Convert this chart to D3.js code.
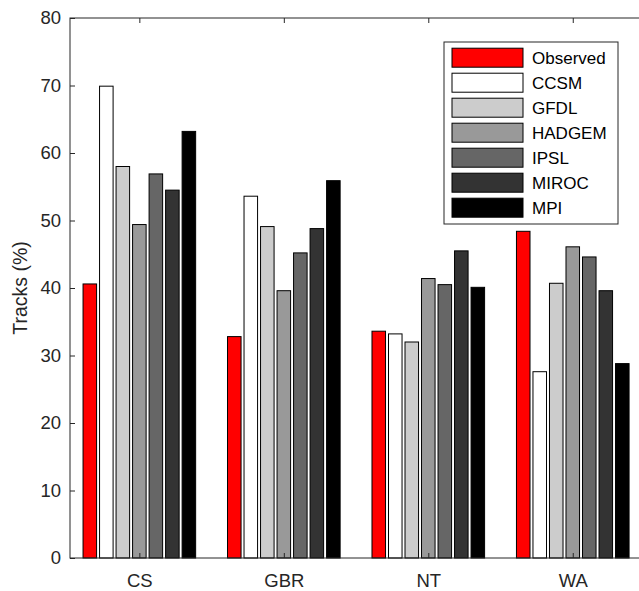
<!DOCTYPE html>
<html>
<head>
<meta charset="utf-8">
<script src="https://cdn.jsdelivr.net/npm/d3@7"></script>
<style>
  body { margin: 0; background: #fff; }
  svg { display: block; font-family: "Liberation Sans", Arial, sans-serif; }
  .axis path { display: none; }
  .axis line { stroke: #262626; }
  .axis text { fill: #262626; }
</style>
</head>
<body>
<script>
// data
var regions = ["CS", "GBR", "NT", "WA"];
var models = ["Observed", "CCSM", "GFDL", "HADGEM", "IPSL", "MIROC", "MPI"];
var observed = [40.6, 32.8, 33.6, 48.4];
var ccsm     = [69.9, 53.6, 33.2, 27.6];
var gfdl     = [58.0, 49.1, 32.0, 40.7];
var hadgem   = [49.4, 39.6, 41.4, 46.1];
var ipsl     = [56.9, 45.2, 40.5, 44.6];
var miroc    = [54.5, 48.8, 45.5, 39.6];
var mpi      = [63.2, 55.9, 40.1, 28.8];
var yTicks = [0, 10, 20, 30, 40, 50, 60, 70, 80];

var seriesValues = [observed, ccsm, gfdl, hadgem, ipsl, miroc, mpi];
var colors = ["#ff0000", "#ffffff", "#cccccc", "#999999", "#666666", "#333333", "#000000"];

var width = 639, height = 591;
// plot box (top/left are taken by window, so use own names)
var plotLeft = 70, plotRight = 645, plotTop = 18, plotBottom = 558;

var svg = d3.select("body").append("svg")
    .attr("width", width)
    .attr("height", height);

//scales
var x = d3.scaleLinear().domain([0.52, 4.5]).range([plotLeft, plotRight]);
var y = d3.scaleLinear().domain([0, 80]).range([plotBottom, plotTop]);
var groupHalf = 0.4 * (x(2) - x(1));
var inner = d3.scaleBand()
    .domain(models)
    .range([-groupHalf, groupHalf])
    .paddingInner(0.18)
    .paddingOuter(0.09);

//flatten into bar records
var bars = [];
regions.forEach(function(r, i){
    models.forEach(function(m, j){
        bars.push({region: i + 1, model: m, value: seriesValues[j][i], color: colors[j]});
    });
});

svg.append("g").selectAll("rect")
    .data(bars)
    .enter()
    .append("rect")
    .attr("x", function(d){ return x(d.region) + inner(d.model); })
    .attr("y", function(d){ return y(d.value); })
    .attr("width", inner.bandwidth())
    .attr("height", function(d){ return y(0) - y(d.value); })
    .style("fill", function(d){ return d.color; })
    .style("stroke", "#000")
    .style("stroke-width", 1);

//frame
svg.append("rect")
    .attr("x", plotLeft).attr("y", plotTop)
    .attr("width", plotRight - plotLeft).attr("height", plotBottom - plotTop)
    .style("fill", "none")
    .style("stroke", "#262626")
    .style("stroke-width", 1);

//axes
svg.append("g").attr("class", "axis")
    .attr("transform", "translate(" + plotLeft + ",0)")
    .call(d3.axisLeft(y).tickValues(yTicks).tickSizeInner(-5).tickSizeOuter(0).tickPadding(9))
    .selectAll("text").style("font-size", "18.5px");

svg.append("g").attr("class", "axis")
    .attr("transform", "translate(" + plotRight + ",0)")
    .call(d3.axisRight(y).tickValues(yTicks).tickSizeInner(-5).tickSizeOuter(0).tickFormat(""));

svg.append("g").attr("class", "axis")
    .attr("transform", "translate(0," + plotBottom + ")")
    .call(d3.axisBottom(x).tickValues([1, 2, 3, 4]).tickSizeInner(-5).tickSizeOuter(0).tickPadding(16)
        .tickFormat(function(d){ return regions[d - 1]; }))
    .selectAll("text").style("font-size", "18.5px");

svg.append("g").attr("class", "axis")
    .attr("transform", "translate(0," + plotTop + ")")
    .call(d3.axisTop(x).tickValues([1, 2, 3, 4]).tickSizeInner(-5).tickSizeOuter(0).tickFormat(""));

//y label
svg.append("text")
    .attr("transform", "translate(27," + ((plotTop + plotBottom) / 2) + ") rotate(-90)")
    .attr("text-anchor", "middle")
    .style("font-size", "19.5px")
    .style("fill", "#262626")
    .text("Tracks (%)");

//legend
var legend = svg.append("g").attr("transform", "translate(444,42)");
legend.append("rect")
    .attr("width", 174)
    .attr("height", 182)
    .style("fill", "#fff")
    .style("stroke", "#262626");

var items = legend.selectAll(".legendItem")
    .data(models)
    .enter()
    .append("g")
    .attr("class", "legendItem")
    .attr("transform", function(d, i){ return "translate(0," + (15.7 + i * 25) + ")"; });

items.append("rect")
    .attr("x", 8).attr("y", -9.5)
    .attr("width", 71).attr("height", 19)
    .style("fill", function(d, i){ return colors[i]; })
    .style("stroke", "#000");

items.append("text")
    .attr("x", 88).attr("y", 6)
    .style("font-size", "17px")
    .style("fill", "#000")
    .text(function(d){ return d; });
</script>
</body>
</html>
